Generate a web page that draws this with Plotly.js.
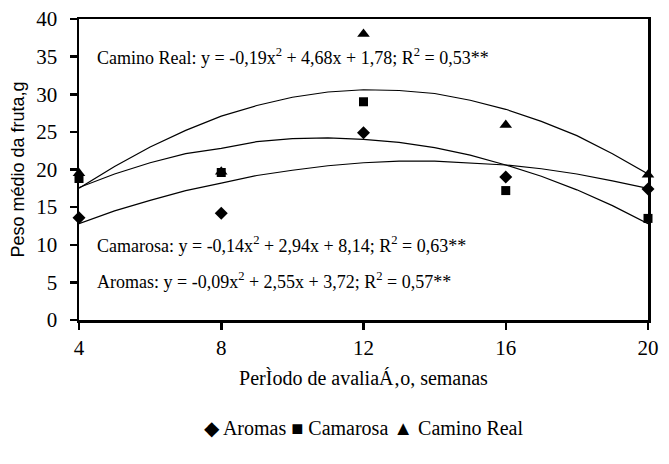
<!DOCTYPE html>
<html>
<head>
<meta charset="utf-8">
<script src="https://cdn.plot.ly/plotly-3.0.1.min.js"></script>
<style>html,body{margin:0;padding:0;background:#fff;}#chart{width:669px;height:464px;}</style>
</head>
<body>
<div id="chart"></div>
<script>
// Observed points (weeks)
var weeks = [4, 8, 12, 16, 20];
var aromas = [13.6, 14.2, 24.9, 19.0, 17.4];
var camarosa = [18.8, 19.6, 29.0, 17.2, 13.5];
var caminoReal = [19.5, 19.7, 38.0, 25.9, 19.3];

// Trend curves
var curveX = [4, 5, 6, 7, 8, 9, 10, 11, 12, 13, 14, 15, 16, 17, 18, 19, 20];
var curveAromas = [12.8, 14.5, 15.9, 17.2, 18.2, 19.2, 19.9, 20.5, 20.9, 21.1, 21.1, 20.9, 20.6, 20.1, 19.4, 18.5, 17.5];
var curveCamarosa = [17.6, 19.4, 20.9, 22.1, 22.8, 23.7, 24.1, 24.2, 24.0, 23.6, 22.9, 21.9, 20.6, 19.1, 17.3, 15.2, 12.8];
var curveCaminoReal = [17.5, 20.4, 23.0, 25.2, 27.1, 28.5, 29.6, 30.3, 30.6, 30.5, 30.1, 29.2, 28.0, 26.4, 24.5, 22.1, 19.4];

var xTicks = [4, 8, 12, 16, 20];
var yTicks = [0, 5, 10, 15, 20, 25, 30, 35, 40];

var eqCamino = 'Camino Real: y = -0,19x<sup>2</sup> + 4,68x + 1,78; R<sup>2</sup> = 0,53**';
var eqCamarosa = 'Camarosa: y = -0,14x<sup>2</sup> + 2,94x + 8,14; R<sup>2</sup> = 0,63**';
var eqAromas = 'Aromas: y = -0,09x<sup>2</sup> + 2,55x + 3,72; R<sup>2</sup> = 0,57**';
var legendText = '◆ Aromas ■ Camarosa ▲ Camino Real';

var serif = 'Liberation Serif';
var sans = 'Liberation Sans';
var lineStyle = {color: '#000', width: 1.2};

var traces = [
  {x: curveX, y: curveAromas, mode: 'lines', line: lineStyle, showlegend: false, hoverinfo: 'skip'},
  {x: curveX, y: curveCamarosa, mode: 'lines', line: lineStyle, showlegend: false, hoverinfo: 'skip'},
  {x: curveX, y: curveCaminoReal, mode: 'lines', line: lineStyle, showlegend: false, hoverinfo: 'skip'},
  {x: weeks, y: aromas, name: 'Aromas', mode: 'markers', cliponaxis: false, showlegend: false,
   marker: {symbol: 'diamond', size: 10, color: '#000'}},
  {x: weeks, y: camarosa, name: 'Camarosa', mode: 'markers', cliponaxis: false, showlegend: false,
   marker: {symbol: 'square', size: 9, color: '#000'}},
  {x: weeks, y: caminoReal, name: 'Camino Real', mode: 'markers', cliponaxis: false, showlegend: false,
   marker: {symbol: 'triangle-up', size: 11, color: '#000'}}
];

var layout = {
  width: 669, height: 464,
  margin: {l: 79, r: 21, t: 19, b: 144},
  paper_bgcolor: '#fff', plot_bgcolor: '#fff',
  font: {family: serif, color: '#000'},
  showlegend: false,
  xaxis: {
    range: [4, 20], tickvals: xTicks, ticktext: xTicks.map(String),
    showgrid: false, zeroline: false,
    showline: true, linewidth: 2.5, linecolor: '#000', mirror: true,
    ticks: 'outside', ticklen: 7, tickwidth: 2.5, tickcolor: '#000',
    ticklabeloverflow: 'allow',
    tickfont: {family: serif, size: 21, color: '#000'},
    title: {text: 'PerÌodo de avaliaÁ‚o, semanas', font: {family: serif, size: 20, color: '#000'}, standoff: 13}
  },
  yaxis: {
    range: [0, 40], tickvals: yTicks, ticktext: yTicks.map(String),
    showgrid: false, zeroline: false,
    showline: true, linewidth: 2.5, linecolor: '#000', mirror: true,
    ticks: 'outside', ticklen: 7, tickwidth: 2.5, tickcolor: '#000',
    ticklabelstandoff: 8, ticklabeloverflow: 'allow',
    tickfont: {family: serif, size: 21, color: '#000'},
    title: {text: 'Peso médio da fruta,g', font: {family: sans, size: 18, color: '#000'}, standoff: 7}
  },
  annotations: [
    {xref: 'paper', yref: 'y', x: 0.028, y: 35, xanchor: 'left', yanchor: 'middle', showarrow: false,
     text: eqCamino, font: {family: serif, size: 18, color: '#000'}},
    {xref: 'paper', yref: 'y', x: 0.028, y: 10, xanchor: 'left', yanchor: 'middle', showarrow: false,
     text: eqCamarosa, font: {family: serif, size: 18, color: '#000'}},
    {xref: 'paper', yref: 'y', x: 0.028, y: 5.3, xanchor: 'left', yanchor: 'middle', showarrow: false,
     text: eqAromas, font: {family: serif, size: 18, color: '#000'}},
    {xref: 'paper', yref: 'paper', x: 0.5, y: -0.36, xanchor: 'center', yanchor: 'middle', showarrow: false,
     text: legendText, font: {family: serif, size: 20, color: '#000'}}
  ]
};

Plotly.newPlot('chart', traces, layout, {displayModeBar: false, staticPlot: true});
</script>
</body>
</html>
